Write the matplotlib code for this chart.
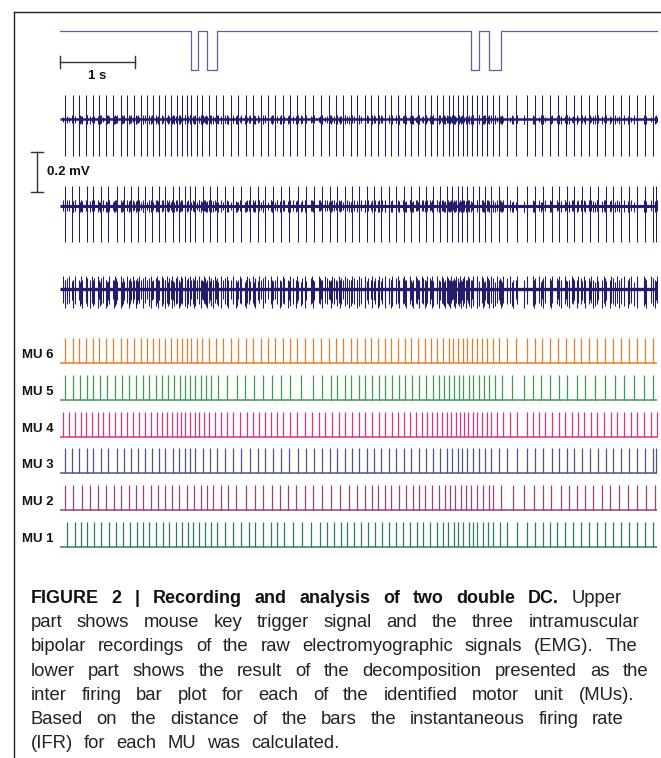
import numpy as np
import matplotlib
matplotlib.use("Agg")
import matplotlib.pyplot as plt
from matplotlib.lines import Line2D

# ---------------------------------------------------------------- data
# trigger (mouse key) : press / release times in seconds
KEY_PRESS = [1.756, 1.975, 5.505, 5.751]
KEY_RELEASE = [1.846, 2.109, 5.621, 5.912]
REC_END = 8.0          # seconds shown

# motor-unit firing times (s)
MU1_TIMES = [0.098, 0.197, 0.277, 0.366, 0.456, 0.553, 0.653, 0.750, 0.848, 0.938, 1.028, 1.108,
             1.197, 1.286, 1.376, 1.465, 1.554, 1.635, 1.715, 1.786, 1.867, 1.939, 2.019, 2.108,
             2.207, 2.322, 2.429, 2.529, 2.613, 2.716, 2.823, 2.912, 3.002, 3.118, 3.243, 3.359,
             3.484, 3.574, 3.672, 3.761, 3.850, 3.940, 4.037, 4.127, 4.225, 4.315, 4.413, 4.502,
             4.592, 4.690, 4.780, 4.868, 4.958, 5.048, 5.128, 5.199, 5.274, 5.337, 5.404, 5.477,
             5.530, 5.592, 5.664, 5.735, 5.798, 5.896, 5.994, 6.128, 6.262, 6.361, 6.468, 6.566,
             6.664, 6.771, 6.870, 6.977, 7.084, 7.192, 7.299, 7.406, 7.521, 7.628, 7.736, 7.843,
             7.950]
MU2_TIMES = [0.071, 0.178, 0.295, 0.402, 0.509, 0.616, 0.724, 0.821, 0.921, 1.018, 1.116, 1.215,
             1.313, 1.403, 1.501, 1.599, 1.698, 1.796, 1.885, 1.966, 2.054, 2.153, 2.251, 2.358,
             2.492, 2.613, 2.724, 2.841, 2.948, 3.055, 3.162, 3.279, 3.394, 3.511, 3.635, 3.752,
             3.869, 3.976, 4.083, 4.181, 4.261, 4.351, 4.439, 4.539, 4.636, 4.734, 4.815, 4.895,
             4.985, 5.075, 5.155, 5.230, 5.293, 5.369, 5.440, 5.511, 5.584, 5.664, 5.745, 5.806,
             5.905, 6.066, 6.218, 6.352, 6.468, 6.583, 6.709, 6.817, 6.924, 7.031, 7.146, 7.263,
             7.370, 7.487, 7.611, 7.728, 7.852, 7.969]
MU3_TIMES = [0.063, 0.161, 0.259, 0.358, 0.446, 0.545, 0.643, 0.760, 0.858, 0.955, 1.045, 1.143,
             1.233, 1.323, 1.411, 1.510, 1.599, 1.671, 1.742, 1.813, 1.912, 2.010, 2.108, 2.215,
             2.322, 2.429, 2.546, 2.649, 2.751, 2.858, 2.965, 3.073, 3.189, 3.296, 3.404, 3.511,
             3.618, 3.716, 3.815, 3.913, 4.011, 4.110, 4.208, 4.305, 4.405, 4.502, 4.610, 4.707,
             4.807, 4.904, 5.002, 5.092, 5.182, 5.257, 5.327, 5.387, 5.458, 5.530, 5.611, 5.691,
             5.771, 5.879, 5.986, 6.120, 6.254, 6.361, 6.476, 6.593, 6.691, 6.790, 6.888, 6.995,
             7.102, 7.209, 7.316, 7.414, 7.521, 7.621, 7.728, 7.835, 7.942, 7.990]
MU4_TIMES = [0.044, 0.125, 0.197, 0.277, 0.348, 0.429, 0.509, 0.580, 0.661, 0.741, 0.821, 0.902,
             0.982, 1.063, 1.143, 1.223, 1.296, 1.367, 1.438, 1.501, 1.564, 1.625, 1.679, 1.742,
             1.805, 1.867, 1.930, 2.001, 2.073, 2.153, 2.234, 2.322, 2.412, 2.502, 2.590, 2.663,
             2.743, 2.823, 2.912, 2.992, 3.082, 3.180, 3.279, 3.377, 3.467, 3.555, 3.645, 3.735,
             3.823, 3.913, 4.003, 4.091, 4.181, 4.271, 4.359, 4.449, 4.529, 4.610, 4.690, 4.770,
             4.851, 4.922, 4.985, 5.048, 5.119, 5.182, 5.246, 5.306, 5.360, 5.414, 5.467, 5.530,
             5.592, 5.655, 5.718, 5.779, 5.852, 5.932, 6.030, 6.128, 6.254, 6.334, 6.415, 6.503,
             6.593, 6.683, 6.771, 6.861, 6.941, 7.022, 7.111, 7.200, 7.290, 7.379, 7.468, 7.558,
             7.647, 7.736, 7.826, 7.915, 7.995]
MU5_TIMES = [0.067, 0.170, 0.268, 0.358, 0.446, 0.536, 0.626, 0.733, 0.831, 0.929, 1.018, 1.108,
             1.197, 1.286, 1.367, 1.447, 1.528, 1.608, 1.679, 1.742, 1.813, 1.885, 1.956, 2.027,
             2.117, 2.234, 2.368, 2.483, 2.600, 2.716, 2.841, 2.965, 3.082, 3.225, 3.386, 3.511,
             3.627, 3.716, 3.815, 3.903, 4.003, 4.091, 4.181, 4.271, 4.359, 4.449, 4.539, 4.627,
             4.717, 4.815, 4.904, 4.994, 5.075, 5.146, 5.217, 5.286, 5.343, 5.404, 5.477, 5.538,
             5.611, 5.682, 5.753, 5.833, 5.923, 6.057, 6.218, 6.334, 6.449, 6.566, 6.683, 6.798,
             6.924, 7.039, 7.173, 7.307, 7.433, 7.558, 7.692, 7.826, 7.950]
MU6_TIMES = [0.067, 0.170, 0.259, 0.348, 0.438, 0.527, 0.616, 0.714, 0.813, 0.902, 0.992, 1.081,
             1.170, 1.250, 1.331, 1.411, 1.491, 1.564, 1.635, 1.698, 1.759, 1.832, 1.903, 1.993,
             2.090, 2.188, 2.287, 2.385, 2.492, 2.586, 2.689, 2.787, 2.885, 2.984, 3.082, 3.180,
             3.279, 3.394, 3.493, 3.601, 3.698, 3.796, 3.895, 3.984, 4.083, 4.171, 4.261, 4.351,
             4.439, 4.529, 4.619, 4.707, 4.797, 4.887, 4.975, 5.056, 5.136, 5.209, 5.273, 5.337,
             5.396, 5.458, 5.521, 5.592, 5.655, 5.726, 5.798, 5.887, 5.986, 6.110, 6.262, 6.361,
             6.459, 6.566, 6.673, 6.780, 6.888, 6.985, 7.093, 7.200, 7.307, 7.414, 7.513, 7.621,
             7.728, 7.835, 7.942]

MU_NAMES = ["MU 1", "MU 2", "MU 3", "MU 4", "MU 5", "MU 6"]
MU_TIMES = [MU1_TIMES, MU2_TIMES, MU3_TIMES, MU4_TIMES, MU5_TIMES, MU6_TIMES]
MU_COLORS = ["#2f7a63", "#9c3f80", "#4a5589", "#e5307b", "#3d9b50", "#f07a2c"]

# spike amplitudes of each MU (MU1..MU6) in the three EMG channels, mV
EMG_UP = [
    [0.018, 0.015, 0.022, 0.012, 0.020, 0.120],
    [0.030, 0.025, 0.100, 0.028, 0.022, 0.020],
    [0.055, 0.045, 0.040, 0.065, 0.035, 0.045],
]
EMG_DOWN = [
    [0.020, 0.022, 0.018, 0.015, 0.025, 0.185],
    [0.025, 0.032, 0.180, 0.025, 0.030, 0.022],
    [0.075, 0.095, 0.055, 0.070, 0.085, 0.050],
]

SCALE_TIME = 1.0   # s
SCALE_VOLT = 0.2   # mV

CAPTION = [
    [("FIGURE", True), ("2", True), ("|", True), ("Recording", True), ("and", True),
     ("analysis", True), ("of", True), ("two", True), ("double", True), ("DC.", True),
     ("Upper", False)],
    [(w, False) for w in "part shows mouse key trigger signal and the three intramuscular".split()],
    [(w, False) for w in "bipolar recordings of the raw electromyographic signals (EMG). The".split()],
    [(w, False) for w in "lower part shows the result of the decomposition presented as the".split()],
    [(w, False) for w in "inter firing bar plot for each of the identified motor unit (MUs).".split()],
    [(w, False) for w in "Based on the distance of the bars the instantaneous firing rate".split()],
    [(w, False) for w in "(IFR) for each MU was calculated.".split()],
]

# ---------------------------------------------------------------- layout
W, H = 661, 758
FONT = ["Liberation Sans", "DejaVu Sans"]
EMG_COLOR = "#231d6b"
TRIG_COLOR = "#5f5fa3"
DARK = "#333333"

fig = plt.figure(figsize=(W / 100, H / 100), dpi=100)
fig.patch.set_facecolor("white")

X_LEFT, X_RIGHT = 60, 657


def px_axes(top, bottom, left=X_LEFT, right=X_RIGHT):
    ax = fig.add_axes([left / W, 1 - bottom / H, (right - left) / W, (bottom - top) / H])
    ax.set_axis_off()
    ax.set_xlim(0, REC_END)
    return ax


# frame lines
fig.add_artist(Line2D([14 / W, 14 / W], [0, 1 - 11.7 / H], transform=fig.transFigure,
                      color="#222222", lw=1.0))
fig.add_artist(Line2D([14 / W, 1], [1 - 11.7 / H, 1 - 11.7 / H], transform=fig.transFigure,
                      color="#222222", lw=1.0))

# ---- trigger
ax_t = px_axes(20, 80)
ax_t.set_ylim(-0.256, 1.282)
tt, yy = [0.0], [1.0]
for p, r in zip(KEY_PRESS, KEY_RELEASE):
    tt += [p, p, r, r]
    yy += [1, 0, 0, 1]
tt.append(REC_END)
yy.append(1.0)
ax_t.plot(tt, yy, color=TRIG_COLOR, lw=0.9, clip_on=False)
# time scale bar
ax_t.plot([0, SCALE_TIME], [0.21, 0.21], color=DARK, lw=1.0, clip_on=False)
for xc in (0, SCALE_TIME):
    ax_t.plot([xc, xc], [0.055, 0.365], color=DARK, lw=1.0, clip_on=False)
ax_t.text(SCALE_TIME / 2, -0.15, f"{SCALE_TIME:g} s", ha="center", va="center",
          fontsize=9.5, fontweight="bold", family=FONT, color="#111111")

# ---- EMG channels
BASELINES = [119.3, 206.0, 289.3]
BAND_LW = [1.8, 2.2, 2.4]
emg_axes = []
for ch, b in enumerate(BASELINES):
    ax = px_axes(b - 40, b + 40)
    ax.set_ylim(-0.2, 0.2)
    ax.plot([0, REC_END], [0, 0], color=EMG_COLOR, lw=BAND_LW[ch], solid_capstyle="butt")
    order = np.argsort([EMG_UP[ch][m] + EMG_DOWN[ch][m] for m in range(6)])
    for m in order:
        ax.vlines(MU_TIMES[m], -EMG_DOWN[ch][m], EMG_UP[ch][m], color=EMG_COLOR,
                  lw=0.75, clip_on=False)
    emg_axes.append(ax)

# voltage scale bar (drawn relative to channel 2)
ax2 = emg_axes[1]
xb = -0.304
ax2.plot([xb, xb], [0.0715, 0.0715 + SCALE_VOLT], color=DARK, lw=1.0, clip_on=False)
for yc in (0.0715, 0.0715 + SCALE_VOLT):
    ax2.plot([xb - 0.078, xb + 0.078], [yc, yc], color=DARK, lw=1.0, clip_on=False)
ax2.text(-0.178, 0.0715 + SCALE_VOLT / 2, f"{SCALE_VOLT:g} mV", ha="left", va="center",
         fontsize=9.5, fontweight="bold", family=FONT, color="#111111")

# ---- motor units
ax_mu = px_axes(330, 555)
ax_mu.set_ylim(-0.226, 5.907)
BAR_H = 0.68
for i, (name, times, col) in enumerate(zip(MU_NAMES, MU_TIMES, MU_COLORS)):
    ax_mu.plot([0, REC_END], [i, i], color=col, lw=1.1, clip_on=False, solid_capstyle="butt")
    ax_mu.vlines(times, i, i + BAR_H, color=col, lw=0.9, clip_on=False)
    ax_mu.text(-0.09, i + 0.22, name, ha="right", va="center", fontsize=9.5,
               fontweight="bold", family=FONT, color="#111111")

# ---- caption (justified)
fig.canvas.draw()
renderer = fig.canvas.get_renderer()
SIZE_REG, SIZE_BOLD = 13.3, 12.9
CAP_LEFT = 30.7
CAP_RIGHT = [622, 639, 637, 648, 634, 624, None]
CAP_BASE0, CAP_STEP = 603.3, 24.07


def measure(word, bold):
    t = fig.text(0, 0, word, fontsize=SIZE_BOLD if bold else SIZE_REG,
                 fontweight="bold" if bold else "normal", family=FONT)
    w = t.get_window_extent(renderer).width
    t.remove()
    return w


for li, line in enumerate(CAPTION):
    widths = [measure(w, b) for w, b in line]
    if CAP_RIGHT[li] is None:
        gap = 11.0
    else:
        gap = (CAP_RIGHT[li] - CAP_LEFT - sum(widths)) / (len(line) - 1)
    x = CAP_LEFT
    ybase = CAP_BASE0 + li * CAP_STEP
    for (w, b), wd in zip(line, widths):
        fig.text(x / W, 1 - ybase / H, w, fontsize=SIZE_BOLD if b else SIZE_REG,
                 fontweight="bold" if b else "normal", family=FONT,
                 color="#111111" if b else "#222222", ha="left", va="baseline")
        x += wd + gap

fig.savefig("out.png", dpi=100, facecolor="white")
